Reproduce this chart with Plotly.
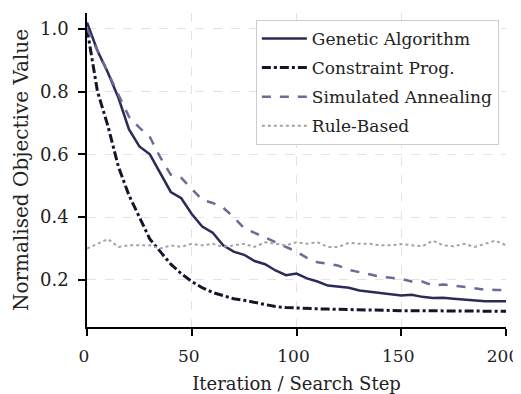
import plotly.graph_objects as go

iterations = list(range(0, 201, 5))

genetic_algorithm = [1.02, 0.93, 0.86, 0.78, 0.68, 0.625, 0.60, 0.54, 0.48, 0.46, 0.41,
                     0.37, 0.35, 0.31, 0.29, 0.28, 0.26, 0.25, 0.23, 0.215, 0.22,
                     0.205, 0.195, 0.182, 0.178, 0.175, 0.166, 0.162, 0.158, 0.152, 0.15,
                     0.153, 0.146, 0.142, 0.143, 0.14, 0.137, 0.133, 0.132, 0.132, 0.132]

constraint_prog = [1.0, 0.80, 0.69, 0.56, 0.47, 0.40, 0.33, 0.29, 0.25, 0.22, 0.195,
                   0.175, 0.16, 0.15, 0.14, 0.135, 0.128, 0.12, 0.115, 0.112, 0.11,
                   0.109, 0.108, 0.107, 0.106, 0.105, 0.104, 0.104, 0.103, 0.103, 0.102,
                   0.102, 0.102, 0.101, 0.101, 0.101, 0.101, 0.1, 0.1, 0.1, 0.1]

simulated_annealing = [1.0, 0.93, 0.86, 0.79, 0.72, 0.685, 0.655, 0.59, 0.535, 0.525, 0.49,
                       0.455, 0.445, 0.43, 0.40, 0.365, 0.35, 0.335, 0.32, 0.305, 0.29,
                       0.27, 0.256, 0.252, 0.245, 0.232, 0.225, 0.217, 0.21, 0.207, 0.203,
                       0.195, 0.195, 0.182, 0.185, 0.182, 0.177, 0.174, 0.169, 0.168, 0.167]

rule_based = [0.30, 0.315, 0.33, 0.305, 0.31, 0.31, 0.31, 0.30, 0.31, 0.305, 0.315,
              0.31, 0.315, 0.305, 0.31, 0.315, 0.305, 0.32, 0.315, 0.31, 0.32,
              0.315, 0.32, 0.305, 0.305, 0.318, 0.315, 0.315, 0.31, 0.31, 0.314,
              0.31, 0.307, 0.325, 0.31, 0.307, 0.315, 0.305, 0.315, 0.325, 0.31]

x_ticks = [0, 50, 100, 150, 200]
y_ticks = [0.2, 0.4, 0.6, 0.8, 1.0]

FONT = "DejaVu Serif"

fig = go.Figure()
fig.add_trace(go.Scatter(x=iterations, y=genetic_algorithm, mode="lines", name="Genetic Algorithm",
                         legendgroup="a", line=dict(color="#2a2b58", width=2.5, dash="solid")))
fig.add_trace(go.Scatter(x=iterations, y=constraint_prog, mode="lines", name="Constraint Prog.",
                         legendgroup="b", line=dict(color="#14152a", width=3, dash="dashdot")))
fig.add_trace(go.Scatter(x=iterations, y=simulated_annealing, mode="lines", name="Simulated Annealing",
                         legendgroup="c", line=dict(color="#6a6b98", width=2.5, dash="dash")))
fig.add_trace(go.Scatter(x=iterations, y=rule_based, mode="lines", name="Rule-Based",
                         legendgroup="d", line=dict(color="#a3a3a8", width=2, dash="dot")))

# The page body has an 8px default margin, so the figure is sized to the visible area.
fig.update_layout(
    width=513, height=386,
    margin=dict(l=79, r=15, t=5, b=67),
    plot_bgcolor="white", paper_bgcolor="white",
    font=dict(family=FONT, size=17, color="#222222"),
    showlegend=True,
    legend=dict(x=0.403, y=0.978, xanchor="left", yanchor="top",
                bgcolor="rgba(255,255,255,0.9)", bordercolor="#cccccc", borderwidth=1,
                font=dict(family=FONT, size=17, color="#222222"),
                tracegroupgap=4, itemwidth=45),
    xaxis=dict(range=[0, 200], tickvals=x_ticks, ticks="outside", ticklen=7, tickwidth=1.5,
               tickcolor="black", showline=True, linecolor="black", linewidth=1.5,
               showgrid=True, gridcolor="#e3e3e3", griddash="dash", gridwidth=1,
               zeroline=False, ticklabeloverflow="allow", automargin=False,
               ticklabelstandoff=6, ticklabelshift=-3,
               title=dict(text="Iteration / Search Step", standoff=13, font=dict(size=18)),
               tickfont=dict(size=17)),
    yaxis=dict(range=[0.05, 1.05], tickvals=y_ticks, tickformat=".1f", ticks="outside", ticklen=7,
               tickwidth=1.5, tickcolor="black", showline=True, linecolor="black", linewidth=1.5,
               showgrid=True, gridcolor="#e3e3e3", griddash="dash", gridwidth=1,
               zeroline=False, automargin=False, ticklabelstandoff=6,
               title=dict(text="Normalised Objective Value", standoff=6, font=dict(size=20)),
               tickfont=dict(size=18)),
)

fig.write_html("out.html")
